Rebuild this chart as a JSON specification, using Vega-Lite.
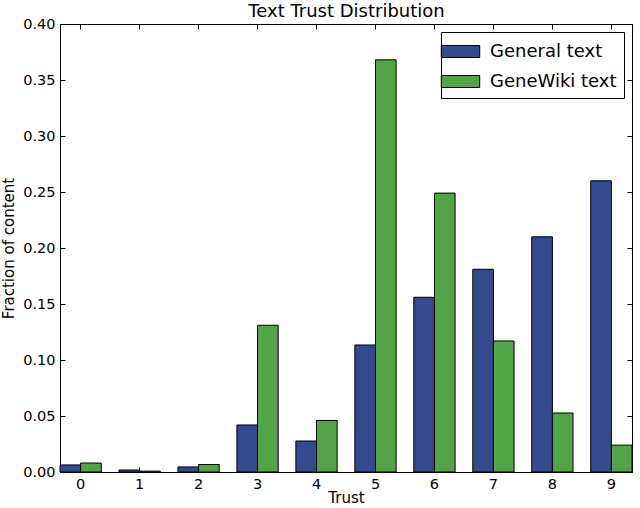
{
  "$schema": "https://vega.github.io/schema/vega-lite/v6.json",
  "autosize": "none",
  "padding": {"left": 60, "top": 24, "right": 8, "bottom": 36},
  "width": 572,
  "height": 448,
  "data": {"values": [
    {"trust": "0", "series": "General text", "value": 0.0063},
    {"trust": "0", "series": "GeneWiki text", "value": 0.008},
    {"trust": "1", "series": "General text", "value": 0.0018},
    {"trust": "1", "series": "GeneWiki text", "value": 0.0008},
    {"trust": "2", "series": "General text", "value": 0.0045},
    {"trust": "2", "series": "GeneWiki text", "value": 0.0067},
    {"trust": "3", "series": "General text", "value": 0.042},
    {"trust": "3", "series": "GeneWiki text", "value": 0.131},
    {"trust": "4", "series": "General text", "value": 0.0277},
    {"trust": "4", "series": "GeneWiki text", "value": 0.046},
    {"trust": "5", "series": "General text", "value": 0.1134},
    {"trust": "5", "series": "GeneWiki text", "value": 0.368},
    {"trust": "6", "series": "General text", "value": 0.156},
    {"trust": "6", "series": "GeneWiki text", "value": 0.249},
    {"trust": "7", "series": "General text", "value": 0.181},
    {"trust": "7", "series": "GeneWiki text", "value": 0.117},
    {"trust": "8", "series": "General text", "value": 0.210},
    {"trust": "8", "series": "GeneWiki text", "value": 0.0527},
    {"trust": "9", "series": "General text", "value": 0.260},
    {"trust": "9", "series": "GeneWiki text", "value": 0.024}
  ]},
  "resolve": {"axis": {"x": "independent", "y": "independent"}},
  "layer": [
    {
      "mark": {"type": "bar", "stroke": "black", "strokeWidth": 1},
      "encoding": {
        "x": {"field": "trust", "type": "nominal", "sort": null,
              "scale": {"paddingInner": 0.3, "paddingOuter": 0},
              "axis": {"orient": "bottom", "title": "Trust", "labelAngle": 0, "tickSize": -5, "labelPadding": 10, "titlePadding": 0, "domain": false}},
        "xOffset": {"field": "series", "type": "nominal", "sort": ["General text", "GeneWiki text"], "scale": {"paddingInner": 0, "paddingOuter": 0}},
        "y": {"field": "value", "type": "quantitative",
              "scale": {"domain": [0, 0.4], "nice": false},
              "axis": {"orient": "left", "title": "Fraction of content", "values": [0, 0.05, 0.1, 0.15, 0.2, 0.25, 0.3, 0.35, 0.4], "format": ".2f", "tickSize": -5, "labelPadding": 10, "titlePadding": 6, "domain": false}},
        "color": {"field": "series", "type": "nominal", "sort": ["General text", "GeneWiki text"],
                  "scale": {"range": ["#334a8f", "#52a447"]},
                  "legend": {"title": null, "orient": "top-right"}}
      }
    },
    {
      "mark": {"type": "bar", "opacity": 0},
      "encoding": {
        "x": {"field": "trust", "type": "nominal", "sort": null,
              "axis": {"orient": "top", "title": "Text Trust Distribution", "titleFontSize": 18, "titlePadding": 3, "labels": false, "tickSize": -5, "domain": false}},
        "y": {"field": "value", "type": "quantitative",
              "axis": {"orient": "right", "title": null, "labels": false, "values": [0, 0.05, 0.1, 0.15, 0.2, 0.25, 0.3, 0.35, 0.4], "tickSize": -5, "domain": false}}
      }
    }
  ],
  "config": {
    "font": "DejaVu Sans",
    "view": {"stroke": "black", "strokeWidth": 1},
    "axis": {"grid": false, "tickColor": "black", "labelColor": "black", "titleColor": "black", "labelFontSize": 14.5, "titleFontSize": 15, "titleFontWeight": "normal", "labelFont": "DejaVu Sans", "titleFont": "DejaVu Sans"},
    "legend": {"labelFontSize": 18, "labelFont": "DejaVu Sans", "labelColor": "black", "strokeColor": "black", "fillColor": "white", "padding": 7, "offset": 8,
               "symbolType": "M-1.6,-0.5L1.6,-0.5L1.6,0.5L-1.6,0.5Z", "symbolSize": 576, "symbolStrokeColor": "black", "symbolStrokeWidth": 1, "symbolOpacity": 1, "rowPadding": 8, "labelOffset": 17}
  }
}
